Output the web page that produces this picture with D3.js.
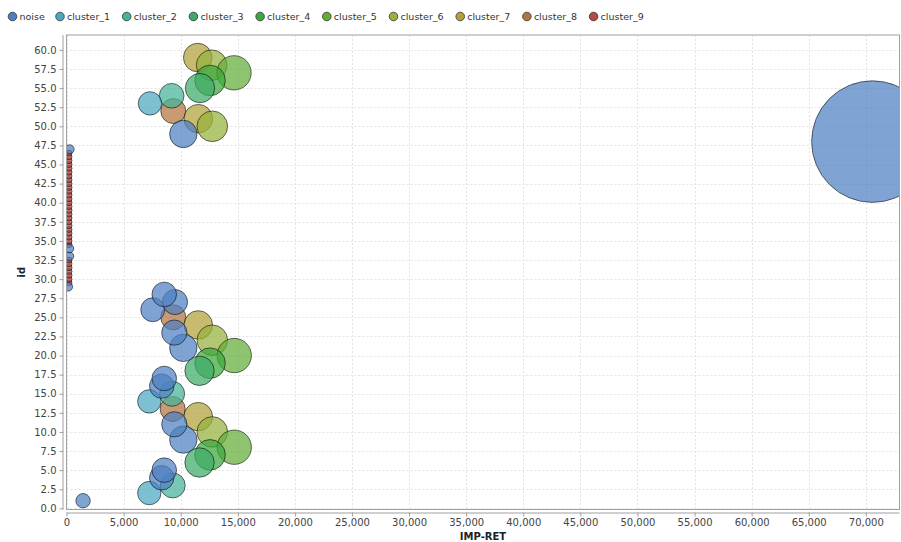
<!DOCTYPE html>
<html><head><meta charset="utf-8">
<script src="https://cdn.jsdelivr.net/npm/d3@7"></script>
<style>
body{margin:0;background:#fff}
text{font-family:"DejaVu Sans",sans-serif}
</style></head>
<body>
<svg id="chart" width="901" height="542"></svg>
<script>
const seriesNames = ["noise","cluster_1","cluster_2","cluster_3","cluster_4","cluster_5","cluster_6","cluster_7","cluster_8","cluster_9"];
const seriesColors = ["#4d7fc0","#4aa7bf","#45b39a","#3daa68","#3aa83c","#62ad38","#96b23c","#b2a13a","#b4743e","#b54a45"];

// id (y), IMP-RET (x), series index, bubble size (z, in IMP-RET units)
const ids = [1,2,3,4,5,6,7,8,9,10,11,12,13,14,15,16,17,18,19,20,21,22,23,24,25,26,27,28,
  29,33,34,47,48,49,50,51,52,53,54,55,56,57,58,59,
  29.5,30,30.5,31,31.5,32,32.5,34.5,35,35.5,36,36.5,37,37.5,38,38.5,39,39.5,40,40.5,41,41.5,42,42.5,43,43.5,44,44.5,45,45.5,46,46.5];
const impRet = [1450,7250,9300,8340,8560,11650,12570,14690,10230,12770,9440,11540,9300,7250,9250,8340,8560,11650,12570,14690,10230,12770,9440,11540,9350,7550,9500,8560,
  160,260,260,280,70580,10230,12770,11540,9350,7310,9210,11690,12570,14670,12710,11490,
  220,220,220,220,220,220,220,220,220,220,220,220,220,220,220,220,220,220,220,220,220,220,220,220,220,220,220,220,220,220,220,220];
const series = [0,1,2,0,0,3,4,5,0,6,0,7,8,1,2,0,0,3,4,5,0,6,0,7,8,0,0,0,
  0,0,0,0,0,0,6,7,8,1,2,3,4,5,6,7,
  9,9,9,9,9,9,9,9,9,9,9,9,9,9,9,9,9,9,9,9,9,9,9,9,9,9,9,9,9,9,9,9];
const bubbleSize = [1260,2050,2190,2140,2150,2570,2680,3010,2400,2680,2210,2500,2190,2050,2190,2140,2150,2570,2680,3010,2400,2680,2210,2500,2190,2100,2200,2150,
  750,750,750,780,10650,2400,2680,2500,2190,2050,2160,2570,2680,3010,2680,2500,
  525,525,525,525,525,525,525,525,525,525,525,525,525,525,525,525,525,525,525,525,525,525,525,525,525,525,525,525,525,525,525,525];

const xTickValues = [0,5000,10000,15000,20000,25000,30000,35000,40000,45000,50000,55000,60000,65000,70000];
const yTickValues = [0,2.5,5,7.5,10,12.5,15,17.5,20,22.5,25,27.5,30,32.5,35,37.5,40,42.5,45,47.5,50,52.5,55,57.5,60];
const xTitle = "IMP-RET", yTitle = "id";

const svg = d3.select("#chart");
const P = {l:66.5, r:899.5, t:35, b:509.5};
const x = d3.scaleLinear().domain([0,72950]).range([P.l,P.r]);
const y = d3.scaleLinear().domain([-0.15,61.95]).range([P.b,P.t]);
const color = d3.scaleOrdinal().domain(d3.range(seriesNames.length)).range(seriesColors);

svg.append("rect").attr("x",P.l).attr("y",P.t).attr("width",P.r-P.l).attr("height",P.b-P.t).attr("fill","#fff");

// grid
const grid = svg.append("g").attr("stroke","#e2e2e2").attr("stroke-dasharray","2,2").attr("stroke-width",1);
grid.selectAll(".gx").data(xTickValues).join("line")
  .attr("x1",d=>Math.round(x(d))+0.5).attr("x2",d=>Math.round(x(d))+0.5).attr("y1",P.t).attr("y2",P.b);
grid.selectAll(".gy").data(yTickValues).join("line")
  .attr("y1",d=>Math.round(y(d))+0.5).attr("y2",d=>Math.round(y(d))+0.5).attr("x1",P.l).attr("x2",P.r);

svg.append("clipPath").attr("id","clip").append("rect")
  .attr("x",P.l).attr("y",P.t).attr("width",P.r-P.l).attr("height",P.b-P.t);

const pts = ids.map((d,i)=>({id:d, v:impRet[i], s:series[i], z:bubbleSize[i], i}));
// series rendered in reverse order (last series first, noise on top)
pts.sort((a,b)=> (b.s-a.s) || (a.i-b.i));

svg.append("g").attr("clip-path","url(#clip)")
  .selectAll("circle").data(pts).join("circle")
  .attr("cx",d=>x(d.v)).attr("cy",d=>y(d.id))
  .attr("r",d=>(x(d.z)-x(0))/2)
  .attr("fill",d=>color(d.s)).attr("fill-opacity",0.72)
  .attr("stroke","#000").attr("stroke-opacity",0.55).attr("stroke-width",1);

svg.append("rect").attr("x",P.l).attr("y",P.t).attr("width",P.r-P.l).attr("height",P.b-P.t)
  .attr("fill","none").attr("stroke","#a0a0a0").attr("stroke-width",1);

// axes
const xAxis = d3.axisBottom(x).tickValues(xTickValues).tickFormat(d3.format(",")).tickSize(4).tickSizeOuter(0);
const yAxis = d3.axisLeft(y).tickValues(yTickValues).tickFormat(d3.format(".1f")).tickSize(4).tickSizeOuter(0);
const gx = svg.append("g").attr("transform",`translate(0,${P.b+3})`).call(xAxis);
const gy = svg.append("g").attr("transform",`translate(${P.l-3},0)`).call(yAxis);
[gx,gy].forEach(g=>{
  g.select(".domain").attr("stroke","#a0a0a0");
  g.selectAll(".tick line").attr("stroke","#a0a0a0");
  g.selectAll(".tick text").attr("fill","#444").style("font-size","10px").style("font-family","DejaVu Sans");
});
gx.select(".domain").attr("d",`M${P.l},0.5H${P.r}`);
gy.select(".domain").attr("d",`M-0.5,${P.t}V${P.b}`);
gx.selectAll(".tick text").attr("y",6).attr("dy","0.71em");

svg.append("text").attr("x",(P.l+P.r)/2).attr("y",540).attr("text-anchor","middle")
  .style("font-size","10px").style("font-weight","bold").attr("fill","#222").text(xTitle);
svg.append("text").attr("transform",`translate(25,${(P.t+P.b)/2}) rotate(-90)`).attr("text-anchor","middle")
  .style("font-size","10px").style("font-weight","bold").attr("fill","#222").text(yTitle);

// legend
const legendX = seriesNames.map((d,i)=> i===0 ? 12.5 : 60 + (i-1)*66.7);
const lg = svg.append("g").selectAll("g").data(seriesNames).join("g")
  .attr("transform",(d,i)=>`translate(${legendX[i]},16.5)`);
lg.append("circle").attr("r",4.3).attr("fill",(d,i)=>color(i)).attr("stroke","#333").attr("stroke-width",0.8);
lg.append("text").attr("x",7).attr("y",3.4).style("font-size","9.5px").attr("fill","#333").text(d=>d);
</script>
</body></html>
